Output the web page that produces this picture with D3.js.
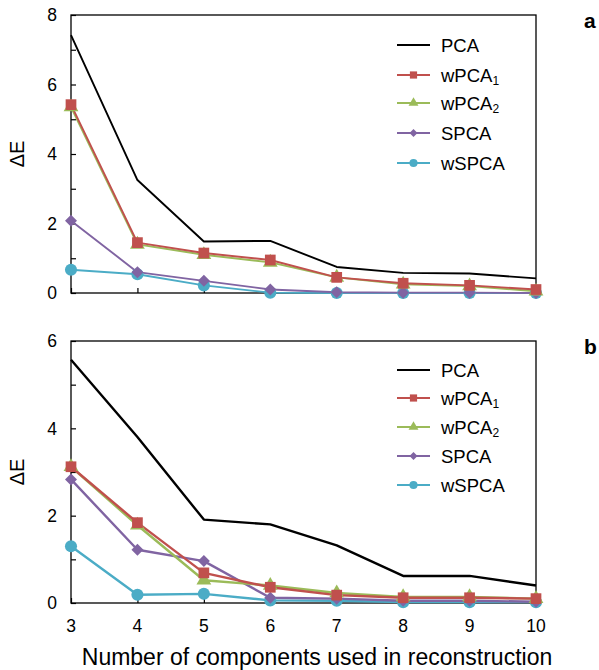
<!DOCTYPE html>
<html>
<head>
<meta charset="utf-8">
<script src="https://cdn.jsdelivr.net/npm/d3@7"></script>
<style>
  body { margin: 0; background: #fff; }
  svg { display: block; font-family: "Liberation Sans", Arial, sans-serif; }
</style>
</head>
<body>
<svg id="chart" width="599" height="670"></svg>
<script>
(function() {

    var components = [3, 4, 5, 6, 7, 8, 9, 10];
    var seriesNames = ["PCA", "wPCA1", "wPCA2", "SPCA", "wSPCA"];

    // panel a
    var pcaA   = [7.42, 3.25, 1.48, 1.5, 0.75, 0.58, 0.56, 0.42];
    var wpca1A = [5.42, 1.45, 1.15, 0.95, 0.45, 0.28, 0.22, 0.1];
    var wpca2A = [5.35, 1.4, 1.1, 0.88, 0.45, 0.25, 0.2, 0.05];
    var spcaA  = [2.08, 0.6, 0.35, 0.1, 0.02, 0.01, 0.01, 0.0];
    var wspcaA = [0.67, 0.54, 0.22, 0.01, 0.0, 0.0, 0.0, 0.0];

    // panel b
    var pcaB   = [5.57, 3.8, 1.91, 1.8, 1.32, 0.62, 0.62, 0.4];
    var wpca1B = [3.12, 1.84, 0.69, 0.36, 0.18, 0.12, 0.12, 0.1];
    var wpca2B = [3.12, 1.78, 0.52, 0.4, 0.23, 0.14, 0.14, 0.1];
    var spcaB  = [2.83, 1.22, 0.96, 0.12, 0.1, 0.05, 0.05, 0.03];
    var wspcaB = [1.3, 0.19, 0.21, 0.06, 0.05, 0.02, 0.02, 0.02];

    var yTicksA = [0, 2, 4, 6, 8];
    var yTicksB = [0, 2, 4, 6];

    var colors = {PCA: "#000000", wPCA1: "#c0504d", wPCA2: "#9bbb59", SPCA: "#8064a2", wSPCA: "#4bacc6"};
    // diamond = square turned 45 degrees
    var symbols = {PCA: null, wPCA1: d3.symbolSquare, wPCA2: d3.symbolTriangle, SPCA: d3.symbolSquare, wSPCA: d3.symbolCircle};
    var rot = {wPCA1: 0, wPCA2: 0, SPCA: 45, wSPCA: 0};
    var markSize = {wPCA1: 115, wPCA2: 95, SPCA: 72, wSPCA: 115};

    var svg = d3.select("#chart");
    var left = 71, right = 536;
    var x = d3.scaleLinear().domain([3, 10]).range([left, right]);

    function panel(opts) {
        var g = svg.append("g");
        var y = d3.scaleLinear().domain([0, opts.ymax]).range([opts.bottom, opts.top]);

        // frame
        g.append("rect")
            .attr("x", left).attr("y", opts.top)
            .attr("width", right - left).attr("height", opts.bottom - opts.top)
            .attr("fill", "none").attr("stroke", "#000").attr("stroke-width", 1.3);

        // y ticks (inside), minor at odd values
        var yAxis = d3.axisRight(y).tickValues(d3.range(0, opts.ymax + 1, 1)).tickSize(5).tickFormat("");
        g.append("g").attr("transform", "translate(" + left + ",0)").call(yAxis)
            .call(function(s) { s.select(".domain").remove(); s.selectAll("line").attr("stroke-width", 1.2); });
        g.selectAll(".ylab").data(opts.yTicks).enter().append("text")
            .attr("x", left - 14).attr("y", function(d) { return y(d); })
            .attr("dy", "0.36em").attr("text-anchor", "end")
            .attr("font-size", 17.5).text(function(d) { return d; });

        // x ticks (inside)
        var xAxis = d3.axisTop(x).tickValues(components).tickSize(5).tickFormat("");
        g.append("g").attr("transform", "translate(0," + opts.bottom + ")").call(xAxis)
            .call(function(s) { s.select(".domain").remove(); s.selectAll("line").attr("stroke-width", 1.2); });
        if (opts.xLabels) {
            g.selectAll(".xlab").data(components).enter().append("text")
                .attr("x", function(d) { return x(d); }).attr("y", opts.bottom + 29)
                .attr("text-anchor", "middle").attr("font-size", 17.5)
                .text(function(d) { return d; });
        }

        // y title
        g.append("text")
            .attr("transform", "translate(24," + ((opts.top + opts.bottom) / 2) + ") rotate(-90)")
            .attr("text-anchor", "middle").attr("font-size", 20).text("ΔE");

        // panel letter
        g.append("text").attr("x", 584).attr("y", opts.top + 13)
            .attr("font-size", 21).attr("font-weight", "bold").text(opts.letter);

        var line = d3.line().x(function(d, i) { return x(components[i]); }).y(function(d) { return y(d); });

        // draw from back to front
        var order = ["wSPCA", "SPCA", "wPCA2", "wPCA1", "PCA"];
        order.forEach(function(name) {
            var vals = opts.data[name];
            g.append("path").datum(vals)
                .attr("d", line).attr("fill", "none")
                .attr("stroke", colors[name]).attr("stroke-width", opts.lw)
                .attr("stroke-linejoin", "round");
        });
        order.forEach(function(name) {
            if (!symbols[name]) return;
            var vals = opts.data[name];
            g.selectAll(null).data(vals).enter().append("path")
                .attr("transform", function(d, i) {
                    return "translate(" + x(components[i]) + "," + y(d) + ") rotate(" + rot[name] + ")";
                })
                .attr("d", d3.symbol().type(symbols[name]).size(markSize[name]))
                .attr("fill", colors[name]);
        });

        // legend
        var lg = g.append("g");
        seriesNames.forEach(function(name, i) {
            var ly = opts.legendY[i];
            lg.append("line").attr("x1", 397).attr("x2", 430).attr("y1", ly).attr("y2", ly)
                .attr("stroke", colors[name]).attr("stroke-width", 2.2);
            if (symbols[name]) {
                lg.append("path").attr("transform", "translate(413.5," + ly + ") rotate(" + rot[name] + ")")
                    .attr("d", d3.symbol().type(symbols[name]).size(markSize[name] * 0.45))
                    .attr("fill", colors[name]);
            }
            var t = lg.append("text").attr("x", 441).attr("y", ly).attr("dy", "0.36em")
                .attr("font-size", 18.5);
            if (name === "wPCA1" || name === "wPCA2") {
                t.text("wPCA");
                t.append("tspan").attr("dy", "0.3em").attr("font-size", 12).text(name.slice(-1));
            } else {
                t.text(name);
            }
        });
    }

    panel({
        top: 15, bottom: 293, ymax: 8, yTicks: yTicksA, letter: "a", lw: 1.9, xLabels: false,
        legendY: [45, 75, 103, 133, 163],
        data: {PCA: pcaA, wPCA1: wpca1A, wPCA2: wpca2A, SPCA: spcaA, wSPCA: wspcaA}
    });

    panel({
        top: 341, bottom: 603, ymax: 6, yTicks: yTicksB, letter: "b", lw: 2.4, xLabels: true,
        legendY: [370, 398, 427, 456, 485],
        data: {PCA: pcaB, wPCA1: wpca1B, wPCA2: wpca2B, SPCA: spcaB, wSPCA: wspcaB}
    });

    svg.append("text").attr("x", 317).attr("y", 665)
        .attr("text-anchor", "middle").attr("font-size", 23)
        .text("Number of components used in reconstruction");

})();
</script>
</body>
</html>
